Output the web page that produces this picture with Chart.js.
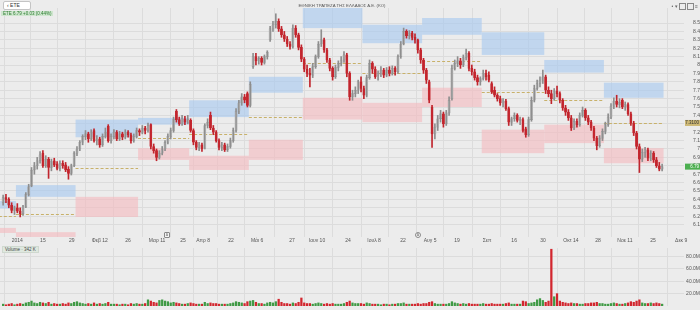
<!DOCTYPE html>
<html>
<head>
<meta charset="utf-8">
<script src="https://cdn.jsdelivr.net/npm/chart.js@4.4.1/dist/chart.umd.min.js"></script>
<style>
  body { margin:0; width:700px; height:310px; overflow:hidden; position:relative; background:#ececec; font-family:"Liberation Sans", Arial, sans-serif; }
  canvas { position:absolute; left:0; }
  .search { position:absolute; left:3px; top:1px; width:26px; height:7px; background:#fff; border:1px solid #c4c4c4; border-radius:2px; font-size:5px; line-height:7px; color:#333; }
  .search span { margin-left:3px; }
  .quote { position:absolute; left:1px; top:11px; padding:0 2px; height:5px; background:#cfe6cf; color:#2e7d32; font-size:4.5px; line-height:5px; }
  .title { position:absolute; left:0; width:684px; top:3px; text-align:center; font-size:4.3px; color:#555; }
  .icons { position:absolute; right:2px; top:3px; font-size:5px; color:#666; }
  .icons i { display:inline-block; width:5px; height:5px; border:1px solid #888; margin-left:1px; vertical-align:middle; }
  .vol-label { position:absolute; left:2px; top:246px; padding:0 2px; height:5px; background:#dfe8df; border:1px solid #cfd8cf; color:#444; font-size:4.5px; line-height:5px; }
  .mark { position:absolute; width:4px; height:4px; border:1px solid #888; border-radius:1px; font-size:3.5px; line-height:4px; text-align:center; color:#555; background:#f4f4f4; }
</style>
</head>
<body>
<canvas id="price" width="700" height="244" style="top:0"></canvas>
<canvas id="vol" width="700" height="66" style="top:244px"></canvas>
<div class="search"><span>&lsaquo; ETE</span></div>
<div class="quote">ETE 6.79 +0.03 (0.44%)</div>
<div class="title">ΕΘΝΙΚΗ ΤΡΑΠΕΖΑ ΤΗΣ ΕΛΛΑΔΟΣ Α.Ε. (ΚΟ)</div>
<div class="icons">• ▾<i></i><i></i> ≡</div>
<div class="vol-label">Volume · 342 K</div>
<div class="mark" style="left:164px;top:232px">Δ</div>
<div class="mark" style="left:415px;top:232px;border-radius:3px">Δ</div>
<script>
// -------------------------------------------------------------
// DATA (daily candles, index 0 = last days of Dec)
// -------------------------------------------------------------
const opens = [
  6.36,6.42,6.40,6.33,6.27,6.30,6.26,6.23,6.31,6.46, 6.56,6.75,6.80,6.86,6.95,6.80,6.88,6.78,6.86,6.82,
  6.77,6.83,6.81,6.76,6.71,6.80,6.95,7.00,7.08,7.15, 7.18,7.12,7.22,7.10,7.12,7.05,7.15,7.27,7.10,7.15,
  7.20,7.12,7.18,7.14,7.20,7.17,7.10,7.15,7.22,7.20, 7.25,7.22,7.29,7.03,6.98,6.90,6.95,7.00,7.08,7.15,
  7.22,7.45,7.35,7.30,7.36,7.32,7.34,7.22,7.08,7.02, 7.05,7.01,7.28,7.40,7.25,7.20,7.10,7.02,7.05,6.99,
  7.03,7.10,7.22,7.45,7.55,7.62,7.66,7.52,7.98,8.10, 8.05,8.08,8.03,8.10,8.30,8.43,8.48,8.52,8.43,8.36,
  8.31,8.25,8.22,8.44,8.36,8.21,8.07,7.95,7.90,7.88, 7.98,8.10,8.25,8.30,8.18,8.06,7.96,7.86,7.97,8.02,
  8.06,8.12,7.90,7.62,7.66,7.70,7.80,7.72,7.64,7.85, 8.02,7.95,7.88,7.90,7.94,7.88,7.94,7.90,7.96,7.92,
  8.10,8.25,8.40,8.35,8.38,8.33,8.30,8.18,8.06,7.94, 7.80,7.50,7.18,7.26,7.36,7.42,7.30,7.43,7.60,7.96,
  8.02,8.05,8.00,8.09,8.14,7.96,7.92,7.85,7.80,7.84, 7.90,7.88,7.78,7.70,7.64,7.60,7.55,7.57,7.48,7.32,
  7.36,7.40,7.34,7.35,7.24,7.17,7.35,7.58,7.72,7.78, 7.82,7.86,7.70,7.66,7.60,7.69,7.66,7.58,7.49,7.44,
  7.37,7.25,7.33,7.29,7.40,7.46,7.37,7.32,7.25,7.13, 7.04,7.13,7.21,7.29,7.38,7.51,7.57,7.53,7.58,7.50,
  7.53,7.42,7.31,7.19,7.03,6.88,6.96,6.99,6.89,6.95, 6.87,6.80,6.76
];
const highs = [
  6.45,6.46,6.42,6.36,6.32,6.35,6.30,6.33,6.48,6.58, 6.78,6.84,6.90,6.97,6.98,6.92,6.90,6.88,6.89,6.85,
  6.86,6.86,6.84,6.79,6.82,6.97,7.03,7.10,7.17,7.22, 7.20,7.23,7.24,7.16,7.14,7.18,7.25,7.29,7.18,7.23,
  7.22,7.21,7.20,7.23,7.22,7.19,7.18,7.25,7.24,7.28, 7.27,7.31,7.30,7.06,7.00,6.98,7.03,7.10,7.18,7.25,
  7.38,7.47,7.38,7.40,7.39,7.40,7.36,7.24,7.10,7.08, 7.07,7.30,7.36,7.44,7.28,7.22,7.12,7.08,7.07,7.06,
  7.13,7.25,7.48,7.58,7.66,7.65,7.68,7.80,8.14,8.14, 8.10,8.10,8.12,8.17,8.46,8.52,8.61,8.55,8.46,8.40,
  8.34,8.28,8.48,8.47,8.38,8.24,8.09,8.00,7.96,8.02, 8.12,8.28,8.42,8.32,8.20,8.08,7.98,8.00,8.05,8.10,
  8.16,8.14,7.92,7.70,7.74,7.82,7.86,7.75,7.88,8.06, 8.04,7.98,7.93,7.98,7.96,7.97,7.98,7.99,7.98,8.12,
  8.28,8.44,8.42,8.41,8.40,8.37,8.31,8.20,8.08,7.96, 7.82,7.52,7.30,7.40,7.46,7.44,7.46,7.62,8.00,8.06,
  8.10,8.08,8.12,8.19,8.16,8.00,7.95,7.88,7.86,7.94, 7.94,7.92,7.80,7.74,7.66,7.63,7.60,7.59,7.50,7.38,
  7.43,7.42,7.38,7.37,7.26,7.38,7.62,7.76,7.82,7.86, 7.94,7.88,7.74,7.70,7.72,7.75,7.68,7.60,7.52,7.47,
  7.40,7.36,7.36,7.43,7.50,7.48,7.40,7.34,7.27,7.15, 7.16,7.24,7.32,7.42,7.54,7.61,7.64,7.60,7.60,7.56,
  7.55,7.44,7.33,7.21,7.06,7.00,7.02,7.01,6.98,6.97, 6.90,6.84,6.82
];
const lows = [
  6.33,6.36,6.30,6.24,6.22,6.24,6.19,6.21,6.30,6.44, 6.55,6.70,6.76,6.83,6.78,6.78,6.65,6.74,6.79,6.75,
  6.74,6.77,6.73,6.64,6.69,6.79,6.92,6.98,7.05,7.11, 7.08,7.10,7.08,7.05,7.02,7.03,7.13,7.08,7.07,7.12,
  7.10,7.10,7.11,7.12,7.14,7.07,7.08,7.13,7.16,7.18, 7.18,7.20,7.00,6.95,6.86,6.88,6.93,6.98,7.06,7.12,
  7.20,7.32,7.28,7.28,7.29,7.30,7.20,7.05,6.99,6.98, 6.97,7.00,7.25,7.23,7.17,7.08,6.99,6.98,6.97,6.97,
  7.01,7.08,7.20,7.42,7.52,7.55,7.50,7.50,7.96,8.00, 8.01,8.00,8.01,8.07,8.28,8.40,8.44,8.40,8.33,8.28,
  8.22,8.19,8.20,8.33,8.18,8.04,7.92,7.86,7.74,7.85, 7.96,8.08,8.22,8.15,8.03,7.93,7.82,7.84,7.93,7.99,
  8.03,7.86,7.58,7.58,7.62,7.66,7.68,7.60,7.62,7.83, 7.90,7.84,7.82,7.86,7.85,7.86,7.87,7.88,7.88,7.90,
  8.08,8.24,8.32,8.31,8.30,8.26,8.14,8.02,7.90,7.78, 7.55,7.02,7.12,7.22,7.32,7.26,7.28,7.40,7.58,7.94,
  7.98,7.96,7.98,8.06,7.93,7.88,7.82,7.76,7.76,7.82, 7.82,7.80,7.66,7.62,7.57,7.52,7.50,7.46,7.28,7.28,
  7.33,7.32,7.29,7.20,7.14,7.15,7.33,7.56,7.70,7.74, 7.78,7.66,7.62,7.54,7.58,7.62,7.55,7.46,7.40,7.34,
  7.22,7.23,7.26,7.27,7.38,7.34,7.29,7.22,7.10,6.99, 7.02,7.10,7.18,7.27,7.36,7.48,7.50,7.49,7.48,7.46,
  7.40,7.28,7.16,7.00,6.72,6.85,6.90,6.86,6.86,6.84, 6.78,6.74,6.74
];
const closes = [
  6.42,6.40,6.33,6.27,6.30,6.26,6.23,6.31,6.46,6.55, 6.75,6.80,6.86,6.93,6.80,6.88,6.78,6.85,6.81,6.77,
  6.83,6.80,6.75,6.71,6.80,6.95,7.00,7.08,7.15,7.18, 7.12,7.20,7.10,7.12,7.05,7.15,7.20,7.10,7.15,7.20,
  7.12,7.18,7.14,7.20,7.17,7.10,7.15,7.22,7.20,7.25, 7.22,7.28,7.03,6.98,6.90,6.95,7.00,7.08,7.15,7.22,
  7.35,7.35,7.30,7.36,7.32,7.35,7.22,7.08,7.02,7.05, 7.00,7.28,7.32,7.25,7.20,7.10,7.02,7.05,6.99,7.03,
  7.10,7.22,7.45,7.55,7.62,7.58,7.52,7.77,8.10,8.05, 8.08,8.03,8.10,8.15,8.43,8.48,8.52,8.43,8.36,8.31,
  8.25,8.22,8.44,8.36,8.21,8.07,7.95,7.90,7.88,7.98, 8.10,8.25,8.30,8.18,8.06,7.96,7.86,7.97,8.02,8.06,
  8.12,7.90,7.62,7.66,7.70,7.80,7.72,7.64,7.85,8.02, 7.95,7.86,7.90,7.94,7.88,7.94,7.90,7.96,7.92,8.10,
  8.25,8.40,8.35,8.38,8.33,8.30,8.18,8.06,7.94,7.82, 7.58,7.18,7.26,7.36,7.42,7.30,7.43,7.58,7.96,8.02,
  8.05,8.00,8.09,8.14,7.96,7.92,7.85,7.80,7.84,7.90, 7.86,7.82,7.68,7.64,7.60,7.55,7.57,7.48,7.32,7.36,
  7.40,7.34,7.35,7.22,7.17,7.35,7.58,7.72,7.78,7.82, 7.86,7.70,7.66,7.60,7.69,7.66,7.58,7.49,7.44,7.37,
  7.25,7.33,7.29,7.40,7.46,7.37,7.32,7.25,7.13,7.04, 7.13,7.21,7.29,7.38,7.51,7.57,7.53,7.56,7.50,7.53,
  7.42,7.31,7.19,7.03,6.88,6.96,6.99,6.89,6.95,6.87, 6.80,6.76,6.79
];
// volume in millions
const volumes = [
  3,2,3,4,2,3,4,3,5,6, 8,5,4,6,5,4,6,3,4,3, 3,4,3,5,4,6,7,5,4,3, 4,3,5,3,4,3,4,6,3,3,
  3,2,3,3,2,4,3,4,3,3, 4,10,8,6,5,9,10,8,7,5, 6,5,4,3,3,4,5,4,3,3, 3,6,4,5,4,4,3,3,3,3,
  4,5,7,6,5,4,7,8,9,6, 4,4,3,5,6,5,7,11,6,4, 4,3,5,4,6,13,5,4,4,3, 4,5,4,3,4,3,4,3,3,3,
  4,6,8,5,4,4,4,3,5,4, 3,3,3,2,3,3,2,3,3,4, 4,5,3,3,3,3,4,3,4,4, 6,7,4,3,3,3,3,4,7,5,
  4,3,4,3,4,3,3,3,3,4, 3,3,4,3,3,3,3,4,5,3, 3,3,3,8,7,4,5,6,10,12, 9,6,8,92,15,20,8,6,5,4,
  5,4,4,3,3,4,4,5,5,6, 4,4,3,3,4,5,4,3,3,4, 5,7,6,8,10,5,4,4,5,4, 5,4,3
];

// month segments (first candle index of each month) and monthly levels
const monthStart = [-1, 5, 26, 48, 66, 87, 106, 127, 148, 169, 191, 212, 233];
const resistHi = [6.38, 6.57, 7.35, 7.37, 7.58, 7.86, 8.68, 8.48, 8.56, 8.39, 8.06, 7.79];
const resistLo = [6.29, 6.43, 7.14, 7.29, 7.38, 7.67, 8.44, 8.26, 8.36, 8.12, 7.91, 7.61];
const supportHi = [6.06, 6.01, 6.43, 7.01, 6.92, 7.11, 7.61, 7.55, 7.73, 7.23, 7.29, 7.01];
const supportLo = [6.00, 5.94, 6.19, 6.87, 6.75, 6.87, 7.35, 7.32, 7.50, 6.95, 7.07, 6.83];
const pivots = [6.20, 6.23, 6.77, 7.13, 7.18, 7.38, 8.02, 7.90, 8.05, 7.68, 7.58, 7.31];

// axes
const dateTicks = [5, 14, 24.2, 34, 44, 54.2, 63.3, 70.4, 80.2, 89.4, 101.7, 110.5, 121.4,
  130.6, 140.8, 150.3, 159.8, 170.4, 179.9, 190.1, 199.9, 209.4, 218.9, 228.8, 238.7];
const dateLabels = ["2014", "15", "29", "Φεβ 12", "26", "Μαρ 11", "25", "Απρ 8", "22", "Μάι 6",
  "27", "Ιουν 10", "24", "Ιουλ 8", "22", "Αυγ 5", "19", "Σεπ", "16", "30", "Οκτ 14", "28",
  "Νοε 11", "25", "Δεκ 9"];
const priceTicks = [6.1, 6.2, 6.3, 6.4, 6.5, 6.6, 6.7, 6.8, 6.9, 7, 7.1, 7.2, 7.3, 7.4,
  7.5, 7.6, 7.7, 7.8, 7.9, 8, 8.1, 8.2, 8.3, 8.4, 8.5];
const volumeTicks = [20, 40, 60, 80];
const volumeLabels = ["20.0M", "40.0M", "60.0M", "80.0M"];

// -------------------------------------------------------------
// STYLE
// -------------------------------------------------------------
const UP_FILL = "#fbfbfb", UP_LINE = "#8e8e8e";
const DOWN_FILL = "#d8323a", DOWN_LINE = "#c0252d";
const GRID = "#dcdcdc";
const X_MIN = -1.1, X_MAX = 239.7;

Chart.defaults.font.family = "'Liberation Sans', Arial, sans-serif";
Chart.defaults.font.size = 5;
Chart.defaults.color = "#555";

const isUp = i => closes[i] >= opens[i];

// -------------------------------------------------------------
// PLUGINS
// -------------------------------------------------------------
const zones = {
  id: "zones",
  beforeDatasetsDraw(chart) {
    const { ctx, chartArea: a, scales: { x, y } } = chart;
    ctx.save();
    ctx.beginPath();
    ctx.rect(a.left, a.top, a.width, a.height);
    ctx.clip();
    for (let m = 0; m < pivots.length; m++) {
      const x0 = x.getPixelForValue(monthStart[m] - 0.5);
      const x1 = x.getPixelForValue(monthStart[m + 1] - 0.5);
      const box = (hi, lo, col) => {
        const y0 = y.getPixelForValue(hi), y1 = y.getPixelForValue(lo);
        ctx.fillStyle = col;
        ctx.fillRect(x0, y0, x1 - x0, y1 - y0);
      };
      box(resistHi[m], resistLo[m], "rgba(165,200,240,0.6)");
      box(supportHi[m], supportLo[m], "rgba(245,185,190,0.6)");
      const py = Math.round(y.getPixelForValue(pivots[m])) + 0.5;
      ctx.strokeStyle = "#c8b16a";
      ctx.lineWidth = 1;
      ctx.setLineDash([3, 2]);
      ctx.beginPath();
      ctx.moveTo(x0, py);
      ctx.lineTo(x1, py);
      ctx.stroke();
    }
    ctx.restore();
  },
  afterDraw(chart) {
    const { ctx, chartArea: a, scales: { y } } = chart;
    const badge = (v, text, bg, fg) => {
      const py = y.getPixelForValue(v);
      ctx.fillStyle = bg;
      ctx.fillRect(a.right + 1, py - 3, 15, 6);
      ctx.fillStyle = fg;
      ctx.font = "4.5px 'Liberation Sans', Arial, sans-serif";
      ctx.textAlign = "right";
      ctx.textBaseline = "middle";
      ctx.fillText(text, a.right + 15, py);
    };
    badge(pivots[pivots.length - 1], pivots[pivots.length - 1].toFixed(4), "#cdb875", "#333");
    badge(closes[closes.length - 1], closes[closes.length - 1].toFixed(2), "#4caf50", "#fff");
  }
};

// -------------------------------------------------------------
// PRICE PANE
// -------------------------------------------------------------
new Chart(document.getElementById("price"), {
  type: "bar",
  data: {
    datasets: [
      {
        data: closes.map((c, i) => ({ x: i, y: [lows[i], highs[i]] })),
        backgroundColor: closes.map((c, i) => isUp(i) ? UP_LINE : DOWN_LINE),
        barThickness: 1,
        grouped: false
      },
      {
        data: closes.map((c, i) => ({ x: i, y: [opens[i], c] })),
        backgroundColor: closes.map((c, i) => isUp(i) ? UP_FILL : DOWN_FILL),
        borderColor: closes.map((c, i) => isUp(i) ? UP_LINE : DOWN_LINE),
        borderWidth: 0.5,
        borderSkipped: false,
        barThickness: 2.2,
        minBarLength: 1,
        grouped: false
      }
    ]
  },
  options: {
    responsive: false,
    animation: false,
    devicePixelRatio: 1,
    layout: { padding: { top: 8, left: 0, right: 0, bottom: 0 } },
    plugins: { legend: { display: false }, tooltip: { enabled: false } },
    scales: {
      x: {
        type: "linear",
        min: X_MIN,
        max: X_MAX,
        offset: false,
        afterBuildTicks: s => { s.ticks = dateTicks.map(v => ({ value: v })); },
        afterFit: s => { s.height = 7; },
        ticks: { autoSkip: false, maxRotation: 0, padding: 1, callback: (v, i) => dateLabels[i] },
        grid: { color: GRID, drawTicks: false },
        border: { display: false }
      },
      y: {
        position: "right",
        min: 5.952,
        max: 8.679,
        afterBuildTicks: s => { s.ticks = priceTicks.map(v => ({ value: v })); },
        afterFit: s => { s.width = 16; },
        ticks: { padding: 1, crossAlign: "far", callback: v => String(v) },
        grid: { color: GRID, drawTicks: false },
        border: { display: false }
      }
    }
  },
  plugins: [zones]
});

// -------------------------------------------------------------
// VOLUME PANE
// -------------------------------------------------------------
new Chart(document.getElementById("vol"), {
  type: "bar",
  data: {
    datasets: [{
      data: volumes.map((v, i) => ({ x: i, y: v })),
      backgroundColor: volumes.map((v, i) => isUp(i) ? "#3f9a45" : "#d2262e"),
      barThickness: 1.6
    }]
  },
  options: {
    responsive: false,
    animation: false,
    devicePixelRatio: 1,
    layout: { padding: { top: 2, left: 0, right: 0, bottom: 4 } },
    plugins: { legend: { display: false }, tooltip: { enabled: false } },
    scales: {
      x: {
        type: "linear",
        min: X_MIN,
        max: X_MAX,
        offset: false,
        afterBuildTicks: s => { s.ticks = dateTicks.map(v => ({ value: v })); },
        afterFit: s => { s.height = 0; },
        ticks: { display: false },
        grid: { color: GRID, drawTicks: false },
        border: { display: false }
      },
      y: {
        position: "right",
        min: 0,
        max: 94,
        afterBuildTicks: s => { s.ticks = volumeTicks.map(v => ({ value: v })); },
        afterFit: s => { s.width = 16; },
        ticks: { padding: 1, crossAlign: "far", callback: (v, i) => volumeLabels[i] },
        grid: { color: GRID, drawTicks: false },
        border: { display: false }
      }
    }
  }
});
</script>
</body>
</html>
